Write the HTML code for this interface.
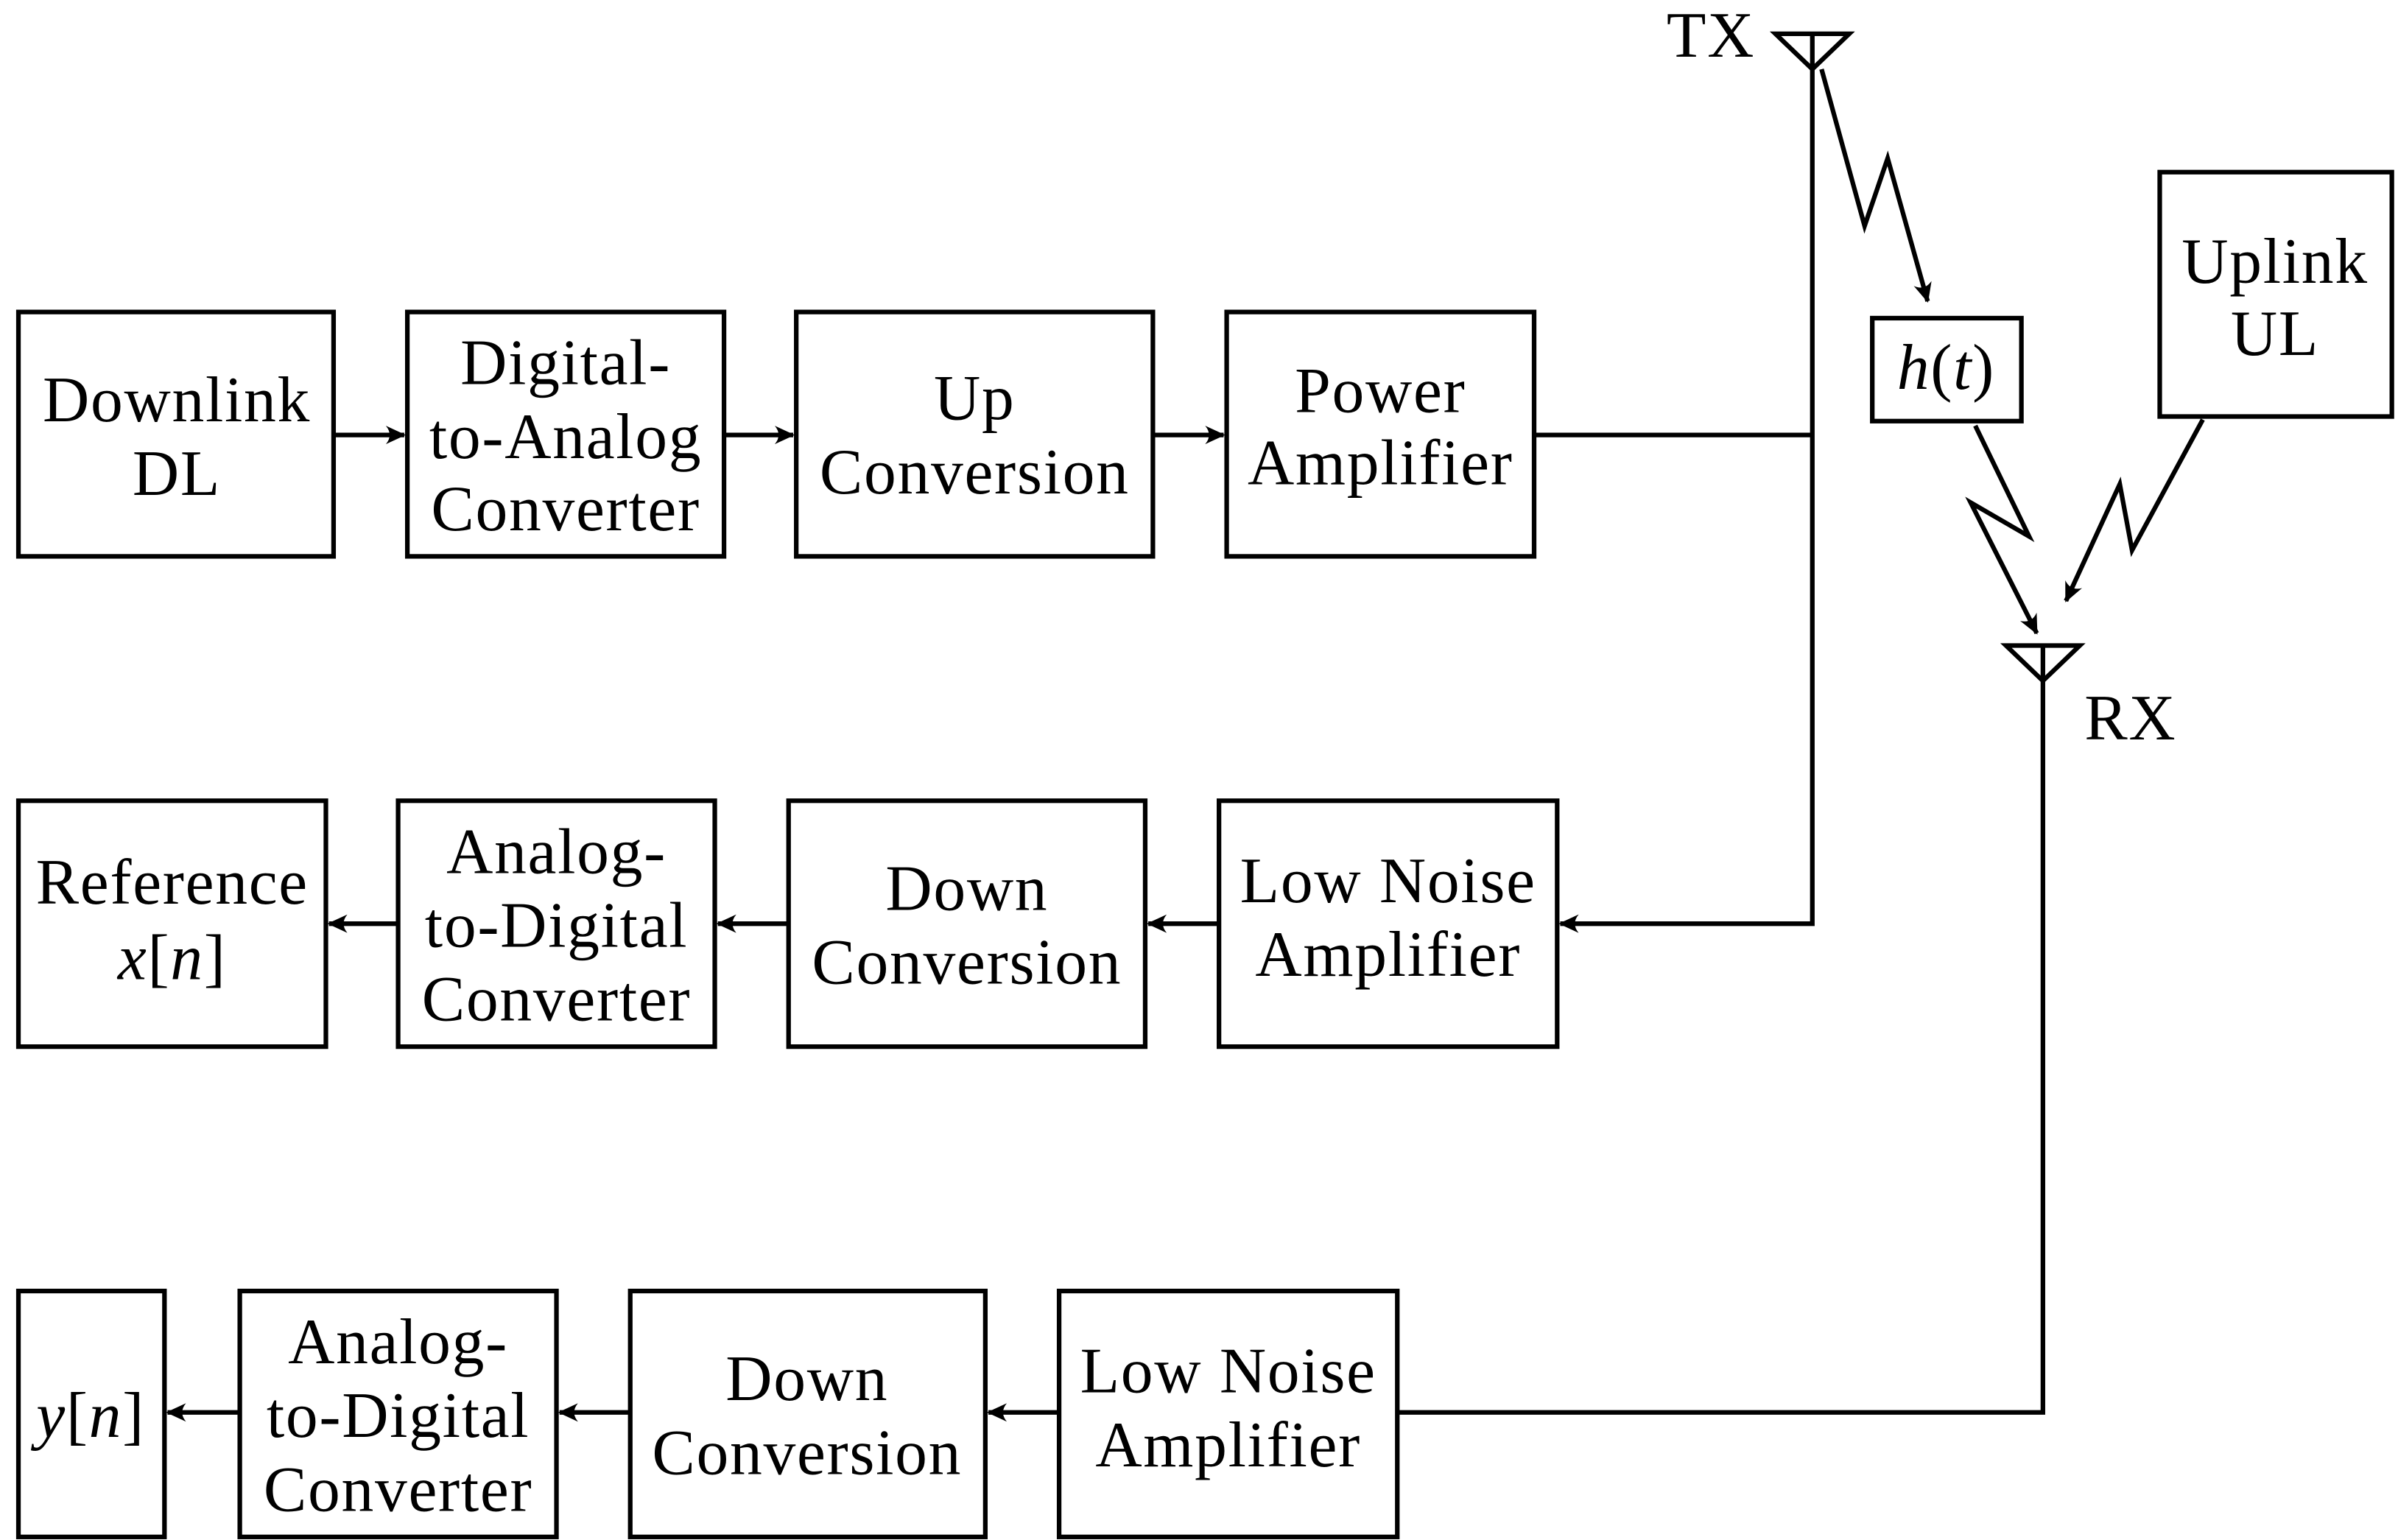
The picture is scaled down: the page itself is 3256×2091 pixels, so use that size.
<!DOCTYPE html>
<html><head><meta charset="utf-8"><style>
html,body{margin:0;padding:0;background:#fff}
svg{display:block}
text{font-family:"Liberation Serif",serif;font-size:42px;letter-spacing:0.8px;fill:#000;text-anchor:middle}
.i{font-style:italic}
</style></head><body>
<svg width="3256" height="2091" viewBox="0 0 1560 1002" preserveAspectRatio="none" xmlns="http://www.w3.org/2000/svg">
<defs>
<marker id="a" markerWidth="14" markerHeight="12" refX="12" refY="6" orient="auto" markerUnits="userSpaceOnUse">
<path d="M0,0 Q5,6 0,12 L13,6 Z" fill="#000"/>
</marker>
</defs>
<g fill="none" stroke="#000" stroke-width="3">
<rect x="12" y="203" width="205" height="159"/>
<rect x="265" y="203" width="206" height="159"/>
<rect x="518" y="203" width="232" height="159"/>
<rect x="798" y="203" width="200" height="159"/>
<line x1="217" y1="283" x2="263" y2="283" marker-end="url(#a)"/>
<line x1="471" y1="283" x2="516" y2="283" marker-end="url(#a)"/>
<line x1="750" y1="283" x2="796" y2="283" marker-end="url(#a)"/>
<line x1="998" y1="283" x2="1179" y2="283"/>
<rect x="12" y="521" width="200" height="160"/>
<rect x="259" y="521" width="206" height="160"/>
<rect x="513" y="521" width="232" height="160"/>
<rect x="793" y="521" width="220" height="160"/>
<polyline points="1179,45 1179,601 1015,601" marker-end="url(#a)"/>
<line x1="793" y1="601" x2="747" y2="601" marker-end="url(#a)"/>
<line x1="513" y1="601" x2="467" y2="601" marker-end="url(#a)"/>
<line x1="259" y1="601" x2="214" y2="601" marker-end="url(#a)"/>
<rect x="12" y="840" width="95" height="160"/>
<rect x="156" y="840" width="206" height="160"/>
<rect x="410" y="840" width="231" height="160"/>
<rect x="689" y="840" width="220" height="160"/>
<polyline points="909,919 1329,919 1329,443"/>
<line x1="689" y1="919" x2="643" y2="919" marker-end="url(#a)"/>
<line x1="410" y1="919" x2="364" y2="919" marker-end="url(#a)"/>
<line x1="156" y1="919" x2="109" y2="919" marker-end="url(#a)"/>
<polygon points="1155,22 1203,22 1179,45"/>
<line x1="1179" y1="22" x2="1179" y2="45"/>
<polygon points="1305,420 1353,420 1329,443"/>
<line x1="1329" y1="420" x2="1329" y2="443"/>
<rect x="1218" y="207" width="97" height="67"/>
<rect x="1405" y="112" width="151" height="159"/>
<polyline points="1185,45 1213,147 1228,103 1254,196" marker-end="url(#a)"/>
<polyline points="1285,277 1320,349 1282,327 1325,412" marker-end="url(#a)"/>
<polyline points="1433,273 1387,358 1379,315 1344,391" marker-end="url(#a)"/>
</g>
<text x="115" y="274">Downlink</text><text x="115" y="322">DL</text>
<text x="368" y="250">Digital-</text><text x="368" y="298">to-Analog</text><text x="368" y="345">Converter</text>
<text x="634" y="273">Up</text><text x="634" y="321">Conversion</text>
<text x="898" y="268">Power</text><text x="898" y="315">Amplifier</text>
<text x="112" y="588">Reference</text><text x="112" y="637" class="i">x<tspan font-style="normal">[</tspan>n<tspan font-style="normal">]</tspan></text>
<text x="362" y="568">Analog-</text><text x="362" y="616">to-Digital</text><text x="362" y="664">Converter</text>
<text x="629" y="592">Down</text><text x="629" y="640">Conversion</text>
<text x="903" y="587">Low Noise</text><text x="903" y="635">Amplifier</text>
<text x="59" y="935" class="i">y<tspan font-style="normal">[</tspan>n<tspan font-style="normal">]</tspan></text>
<text x="259" y="887">Analog-</text><text x="259" y="935">to-Digital</text><text x="259" y="983">Converter</text>
<text x="525" y="911">Down</text><text x="525" y="959">Conversion</text>
<text x="799" y="906">Low Noise</text><text x="799" y="954">Amplifier</text>
<text x="1266" y="253" class="i">h<tspan font-style="normal">(</tspan>t<tspan font-style="normal">)</tspan></text>
<text x="1480" y="184">Uplink</text><text x="1480" y="231">UL</text>
<text x="1113" y="37">TX</text>
<text x="1386" y="481">RX</text>
</svg>
</body></html>
